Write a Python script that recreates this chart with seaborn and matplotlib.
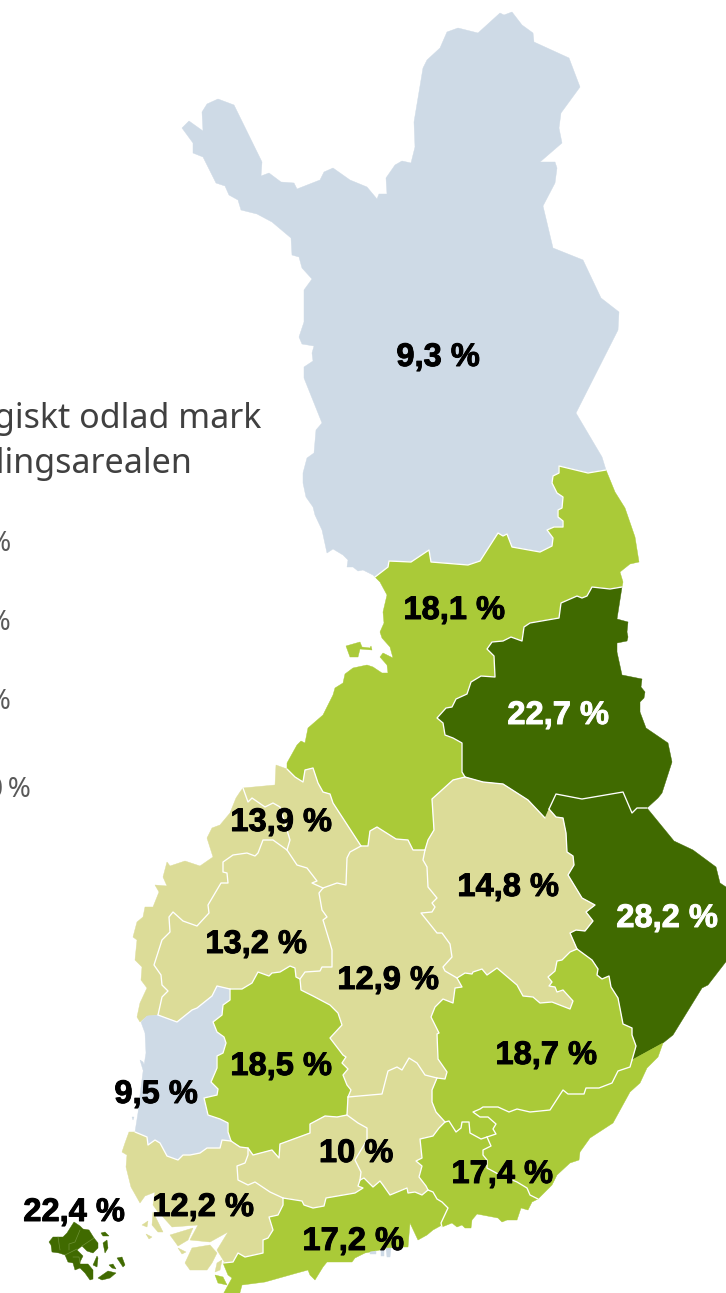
"""Andel ekologiskt odlad mark per region, Finland (karta)."""
import matplotlib
matplotlib.use("Agg")
import matplotlib.pyplot as plt
import matplotlib.patheffects as pe
import numpy as np
import seaborn as sns

# ----------------------------------------------------------------------
# Data: region values and label anchors (image pixels)
# ----------------------------------------------------------------------
REGIONS = ["lappi", "pohjois", "kainuu", "karelen", "savo", "keski", "kp", "pohjanmaa",
           "sp", "satakunta", "pirkanmaa", "esavo", "hame", "ph", "vs", "uusimaa",
           "kymi", "skarelen", "aland"]
VALUES = [9.3, 18.1, 22.7, 28.2, 14.8, 12.9, 13.9, 13.9,
          13.2, 9.5, 18.5, 18.7, 10, 10, 12.2, 17.2,
          17.4, 17.4, 22.4]

LABEL_VALUES = [9.3, 18.1, 22.7, 13.9, 14.8, 28.2, 13.2, 12.9, 18.7, 18.5, 9.5, 10, 17.4, 12.2, 22.4, 17.2]
LABEL_X = [438, 454, 558, 281, 508, 667, 256, 388, 546, 281, 156, 356, 502, 203, 74, 353]
LABEL_Y = [354, 607, 712, 819, 884, 915, 941, 977, 1052, 1063, 1091, 1150, 1171, 1204, 1209, 1238]

TITLE_LINES = ["Ekologiskt odlad mark", "av odlingsarealen"]
LEGEND_LABELS = ["< 10 %", "10–15 %", "15–20 %", "över 20\u2009%"]
LEGEND_RIGHT = [11, 11, 11, 31]
LEGEND_Y = [544, 623, 702, 790]

BLUE = "#CEDAE6"
PALE = "#DCDC98"
LIME = "#AACA38"
DARK = "#406A00"

# ----------------------------------------------------------------------
# Shared borders between regions
# ----------------------------------------------------------------------
B_LAP_POHJ = [(606,470),(588,473),(559,466),(559,473),(553,476),(552,483),(557,493),(563,497),(562,508),(558,510),
              (558,517),(563,521),(563,527),(554,527),(547,530),(553,538),(552,546),(540,552),(512,547),(507,534),
              (503,536),(498,533),(480,561),(468,565),(431,562),(429,550),(411,562),(389,561),(388,567),(375,577)]
B_POHJ_KAIN = [(622,587),(610,589),(592,587),(587,596),(582,598),(577,596),(561,603),(559,618),(530,623),(524,627),
               (522,641),(511,637),(503,641),(492,642),(487,649),(494,656),(495,677),(481,676),(471,682),(467,694),
               (456,699),(452,707),(446,708),(437,718),(443,723),(445,735),(453,738),(462,743),(462,772),(465,777)]
B_POHJ_SAVO = [(465,777),(453,780),(432,799),(434,830),(428,840),(425,850)]
B_POHJ_KESKI = [(425,850),(413,850),(408,840),(396,839),(377,827),(370,831),(368,846),(361,846)]
B_POHJ_KP = [(361,846),(333,803),(330,794),(323,792),(318,783),(313,768),(305,770),(303,782),(295,777),(287,769)]
B_KAIN_KAR = [(647,808),(637,808),(632,813),(623,792),(582,799),(556,794),(549,809)]
B_KAIN_SAVO = [(545,818),(528,800),(503,784),(483,782),(465,777)]
B_KAR_SAVO = [(549,809),(556,817),(563,818),(566,833),(567,852),(573,856),(574,865),(568,875),(582,898),(595,905),
              (586,912),(593,921),(585,931),(576,930),(570,933),(577,949)]
B_KAR_ESAVO = [(577,949),(592,960),(598,969),(597,975),(602,979),(609,976),(611,987),(618,998),(623,1024),(632,1028),
               (632,1035),(636,1046),(632,1060)]
B_SAVO_ESAVO = [(457,978),(465,973),(472,974),(473,972),(482,969),(487,975),(497,968),(517,985),(523,996),(533,997),
                (540,1003),(552,1002),(570,1009),(573,1001),(563,990),(557,992),(555,987),(549,986),(552,982),(548,977),
                (555,971),(557,961),(562,960),(570,952),(577,949)]
B_SAVO_KESKI = [(457,978),(445,971),(443,967),(452,957),(450,944),(442,933),(437,933),(421,913),(432,912),(435,907),
                (432,903),(437,898),(428,887),(427,867),(423,860),(425,850)]
B_KESKI_ESAVO = [(457,978),(462,987),(455,988),(453,1003),(443,999),(435,1007),(431,1017),(439,1033),(437,1034),(438,1059),
                 (447,1072),(445,1079),(437,1078)]
B_KESKI_PH = [(437,1078),(425,1075),(417,1063),(409,1058),(402,1070),(397,1067),(388,1071),(382,1094),(348,1097)]
B_KESKI_PIR = [(348,1097),(351,1090),(347,1085),(343,1075),(348,1069),(342,1063),(346,1057),(343,1055),(330,1038),(342,1025),
               (338,1013),(330,1005),(313,996),(301,990),(300,979)]
B_KESKI_SP = [(300,979),(305,972),(320,971),(322,967),(332,967),(332,950),(330,943),(323,920),(327,917),(322,910),
              (319,893),(323,888)]
B_KESKI_KP = [(323,888),(337,883),(346,885),(347,858),(350,852),(361,846)]
B_KP_POH = [(243,788),(248,802),(252,798),(265,807),(273,803),(280,807),(290,840),(287,850)]
B_KP_SP = [(287,850),(297,865),(307,868),(317,881),(312,883),(323,888)]
B_SP_POH = [(287,850),(273,840),(263,840),(258,853),(255,856),(247,853),(233,855),(223,862),(223,872),(227,873),
            (228,883),(221,883),(208,905),(209,913),(197,926),(183,921),(173,912),(169,917),(170,932),(162,940),
            (154,965),(161,975),(162,985),(168,991),(162,997),(158,1015)]
B_SP_SAT = [(158,1015),(177,1022),(192,1010),(197,1008),(212,996),(217,986),(230,989)]
B_SP_PIR = [(230,989),(242,989),(252,983),(258,972),(269,976),(272,973),(280,972),(290,966),(295,968),(296,977),(300,979)]
B_SAT_PIR = [(230,989),(230,1000),(223,1005),(222,1015),(213,1022),(217,1032),(224,1037),(226,1043),(223,1053),(217,1056),
             (217,1068),(211,1082),(218,1089),(217,1095),(204,1098),(208,1115),(220,1119),(228,1123),(228,1132),(231,1141)]
B_SAT_VS = [(231,1141),(222,1140),(220,1148),(207,1148),(200,1153),(190,1155),(183,1155),(178,1160),(167,1156),(160,1143),
            (155,1140),(148,1145),(147,1137),(135,1132)]
B_PIR_HAME = [(348,1097),(347,1115),(337,1117),(325,1116),(310,1124),(310,1133),(280,1144),(279,1158),(272,1150),(253,1155),
              (248,1148),(240,1147),(231,1141)]
B_HAME_VS = [(248,1148),(248,1155),(245,1163),(237,1166),(238,1180),(248,1185),(255,1182),(270,1192),(283,1198)]
B_HAME_UUS = [(283,1198),(302,1201),(304,1205),(313,1208),(324,1206),(326,1198),(355,1193),(363,1188),(358,1186),(360,1180)]
B_HAME_PH = [(360,1180),(361,1172),(355,1160),(367,1140),(367,1128),(358,1123),(347,1115)]
B_PH_UUS = [(360,1180),(364,1178),(373,1187),(380,1181),(383,1185),(390,1195),(407,1188),(408,1193),(415,1192),(422,1195),(428,1190)]
B_PH_ESAVO = [(437,1078),(432,1090),(432,1102),(436,1112),(445,1122)]
B_PH_KYMI = [(445,1122),(439,1128),(433,1136),(420,1139),(422,1158),(416,1161),(422,1166),(419,1177),(426,1186),(428,1190)]
B_VS_UUS = [(283,1198),(283,1205),(278,1215),(269,1217),(273,1230),(268,1238),(263,1240),(263,1253),(245,1257),(238,1253),
            (233,1262),(223,1263)]
B_UUS_KYMI = [(428,1190),(433,1192),(437,1199),(442,1202),(448,1208),(441,1223),(442,1227)]
B_ESAVO_SK = [(632,1060),(630,1067),(618,1071),(612,1083),(599,1088),(586,1088),(584,1094),(568,1094),(563,1090),(550,1110),
              (530,1112),(517,1109),(509,1112),(498,1107),(483,1107),(480,1109),(473,1112),(480,1117),(488,1117),(496,1124),
              (493,1129),(496,1134),(487,1137)]
B_ESAVO_KYMI = [(487,1137),(481,1139),(470,1133),(469,1122),(462,1122),(461,1128),(456,1132),(449,1121),(445,1122)]
B_KYMI_SK = [(487,1137),(491,1146),(483,1150),(483,1155),(487,1160),(487,1168),(500,1175),(517,1182),(527,1188),(530,1195),(538,1199)]

# ----------------------------------------------------------------------
# Coasts and the eastern border
# ----------------------------------------------------------------------
C_LAP = [(375,577),(373,575),(363,570),(358,571),(353,567),(347,567),(348,560),(343,555),(333,549),(327,553),
         (322,530),(315,515),(313,507),(306,497),(303,483),(303,473),(307,458),(314,453),(316,430),(322,423),
         (304,378),(304,367),(313,361),(312,353),(314,346),(302,344),(299,337),(304,322),(304,290),(312,279),
         (302,268),(299,257),(292,255),(291,238),(272,222),(257,214),(241,210),(238,200),(229,195),(225,186),
         (216,183),(203,157),(193,153),(193,143),(182,128),(189,121),(203,131),(202,112),(207,104),(218,99),
         (234,105),(262,162),(261,176),(269,173),(281,182),(294,183),(297,189),(320,180),(324,172),(333,168),
         (350,180),(367,187),(377,199),(379,194),(387,194),(386,178),(395,165),(402,161),(411,163),(415,147),
         (414,122),(421,80),(423,68),(427,60),(440,48),(447,32),(458,28),(478,33),(500,13),(504,15),
         (512,12),(522,25),(533,33),(534,42),(569,58),(580,87),(561,113),(559,128),(562,143),(540,162),
         (555,162),(557,168),(555,183),(543,206),(553,248),(583,260),(601,298),(619,312),(618,330),(576,413),
         (602,457),(606,470)]
C_POHJ_EAST = [(606,470),(615,492),(625,508),(635,537),(639,562),(630,564),(620,572),(623,582),(622,587)]
C_POHJ_WEST = [(287,769),(287,763),(297,745),(301,741),(305,743),(308,728),(323,715),(333,695),(335,688),(343,683),
               (345,674),(353,668),(367,665),(373,667),(382,673),(388,673),(387,665),(380,657),(383,653),(393,658),
               (390,647),(382,638),(380,632),(384,623),(383,612),(387,595),(380,582),(375,577)]
C_KAIN = [(622,587),(617,619),(628,622),(627,632),(628,637),(627,641),(617,643),(617,652),(622,675),(642,679),
          (641,687),(645,692),(644,698),(640,702),(640,712),(646,728),(668,743),(672,762),(662,793),(658,798),(647,808)]
C_KAR = [(632,1060),(663,1043),(673,1035),(702,988),(708,985),(735,950),(735,887),(726,887),(720,883),(716,867),
         (693,850),(674,841),(647,808)]
C_KP = [(287,769),(276,765),(275,785),(243,788)]
C_POH = [(243,788),(240,792),(236,798),(230,813),(220,825),(212,828),(207,838),(213,857),(200,866),(185,861),
         (170,866),(167,862),(163,877),(167,886),(155,885),(159,892),(153,907),(145,907),(143,917),(137,922),
         (133,937),(137,940),(135,960),(142,967),(141,980),(147,988),(140,1003),(137,1017),(140,1022),(147,1016),(158,1015)]
C_SAT = [(135,1132),(138,1113),(140,1095),(143,1072),(146,1053),(145,1033),(141,1022),(147,1016),(158,1015)]
C_VS = [(135,1132),(129,1132),(125,1143),(122,1152),(127,1155),(126,1167),(131,1187),(140,1203),(145,1196),(155,1192),
        (153,1205),(158,1212),(163,1217),(172,1227),(198,1225),(190,1240),(210,1242),(228,1232),(217,1250),(225,1263),(223,1263)]
C_UUS = [(442,1227),(442,1225),(433,1230),(427,1235),(418,1240),(410,1223),(408,1247),(395,1247),(365,1253),(355,1258),
         (352,1262),(327,1262),(323,1267),(315,1280),(310,1275),(308,1270),(297,1273),(265,1282),(242,1285),(238,1300),
         (220,1300),(232,1278),(228,1275),(223,1263)]
C_KYMI = [(538,1199),(532,1202),(528,1210),(521,1208),(517,1220),(507,1220),(502,1222),(498,1218),(477,1214),(472,1220),
          (471,1228),(465,1228),(462,1225),(457,1227),(452,1223),(442,1227)]
C_SK = [(632,1060),(663,1043),(658,1057),(647,1068),(640,1083),(630,1092),(613,1123),(590,1138),(580,1152),(579,1160),
        (570,1163),(557,1175),(552,1185),(538,1199)]

ALAND_MAIN = [(49,1242),(53,1237),(63,1237),(67,1233),(74,1222),(80,1226),(83,1229),(89,1230),(94,1238),(98,1243),
              (98,1248),(93,1253),(87,1251),(82,1246),(77,1250),(83,1256),(80,1262),(80,1264),(88,1264),(93,1270),
              (93,1279),(90,1280),(85,1273),(80,1268),(75,1270),(73,1263),(68,1262),(65,1255),(59,1253),(52,1252),(51,1245)]
ALAND_ISLETS = [[(101,1233),(105,1232),(109,1236),(103,1236)],
                [(103,1243),(107,1240),(108,1248),(105,1253)],
                [(93,1265),(97,1256),(98,1258),(97,1267)],
                [(117,1258),(122,1257),(125,1265),(123,1267)],
                [(109,1265),(113,1264),(116,1269),(112,1268)],
                [(98,1278),(108,1271),(116,1273),(110,1278),(102,1280)]]
ALAND_LINES = [[(58,1237),(60,1250)],
               [(80,1230),(75,1242),(69,1244),(69,1250)],
               [(94,1238),(82,1246)],
               [(77,1249),(65,1255)],
               [(73,1257),(79,1257),(80,1263)]]

PALE_ISLETS = [[(170,1235),(193,1228),(188,1240),(178,1246)],
               [(185,1263),(192,1248),(210,1245),(217,1253),(212,1263),(207,1270),(190,1270)],
               [(178,1248),(186,1252),(182,1254)],
               [(153,1212),(163,1232),(158,1232),(152,1225)],
               [(142,1225),(148,1221),(147,1227)],
               [(146,1234),(152,1237),(149,1239)],
               [(217,1263),(222,1260),(220,1270),(215,1272)]]
LIME_ISLETS = [[(346,646),(360,642),(362,647),(370,648),(371,646),(372,650),(360,649),(358,657),(350,657)],
               [(215,1275),(223,1277),(227,1285),(218,1283)]]
BLUE_ISLETS = [[(140,1060),(143,1062),(147,1072),(143,1070)],
               [(132,1117),(134,1117),(133,1120)],
               [(370,1252),(376,1251),(376,1254),(370,1254)],
               [(381,1250),(384,1250),(384,1256),(381,1256)],
               [(386,1248),(391,1248),(390,1257),(387,1257)]]

# interior lines drawn white on top of the fills
BORDERS = [B_LAP_POHJ, B_POHJ_KAIN, B_POHJ_SAVO, B_POHJ_KESKI, B_POHJ_KP, B_KAIN_KAR, B_KAIN_SAVO, B_KAR_SAVO,
           B_KAR_ESAVO, B_SAVO_ESAVO, B_SAVO_KESKI, B_KESKI_ESAVO, B_KESKI_PH, B_KESKI_PIR, B_KESKI_SP, B_KESKI_KP,
           B_KP_POH, B_KP_SP, B_SP_POH, B_SP_SAT, B_SP_PIR, B_SAT_PIR, B_SAT_VS, B_PIR_HAME, B_HAME_VS, B_HAME_UUS,
           B_HAME_PH, B_PH_UUS, B_PH_ESAVO, B_PH_KYMI, B_VS_UUS, B_UUS_KYMI, B_ESAVO_SK, B_ESAVO_KYMI, B_KYMI_SK]


def rev(arc):
    return arc[::-1]


def ring(*arcs):
    pts = []
    for arc in arcs:
        pts.extend(arc)
    return pts


OUTLINES = {
    "lappi": ring(C_LAP, B_LAP_POHJ),
    "pohjois": ring(rev(B_LAP_POHJ), C_POHJ_EAST, B_POHJ_KAIN, B_POHJ_SAVO, B_POHJ_KESKI, B_POHJ_KP, C_POHJ_WEST),
    "kainuu": ring(C_KAIN, B_KAIN_KAR, B_KAIN_SAVO, rev(B_POHJ_KAIN)),
    "karelen": ring(B_KAIN_KAR, B_KAR_SAVO, B_KAR_ESAVO, C_KAR),
    "savo": ring(rev(B_KAIN_SAVO), B_KAR_SAVO, rev(B_SAVO_ESAVO), B_SAVO_KESKI, rev(B_POHJ_SAVO)),
    "keski": ring(B_POHJ_KESKI, rev(B_KESKI_KP), rev(B_KESKI_SP), rev(B_KESKI_PIR), rev(B_KESKI_PH),
                  rev(B_KESKI_ESAVO), B_SAVO_KESKI),
    "kp": ring(B_POHJ_KP, C_KP, B_KP_POH, B_KP_SP, B_KESKI_KP),
    "pohjanmaa": ring(C_POH, rev(B_SP_POH), rev(B_KP_POH)),
    "sp": ring(B_SP_POH, B_SP_SAT, B_SP_PIR, B_KESKI_SP, rev(B_KP_SP)),
    "satakunta": ring(B_SP_SAT, B_SAT_PIR, B_SAT_VS, C_SAT),
    "pirkanmaa": ring(B_SP_PIR, rev(B_KESKI_PIR), B_PIR_HAME, rev(B_SAT_PIR)),
    "esavo": ring(B_SAVO_ESAVO, B_KAR_ESAVO, B_ESAVO_SK, B_ESAVO_KYMI, rev(B_PH_ESAVO), rev(B_KESKI_ESAVO)),
    "hame": ring(B_PIR_HAME[1:11], B_HAME_VS, B_HAME_UUS, B_HAME_PH),
    "ph": ring(rev(B_KESKI_PH), B_PH_ESAVO, B_PH_KYMI, rev(B_PH_UUS), B_HAME_PH, [(348, 1097)]),
    "vs": ring(rev(B_SAT_VS), [(240, 1147)], B_HAME_VS, B_VS_UUS, rev(C_VS)),
    "uusimaa": ring(B_HAME_UUS, B_PH_UUS, B_UUS_KYMI, C_UUS, rev(B_VS_UUS)),
    "kymi": ring(rev(B_PH_KYMI), rev(B_ESAVO_KYMI), B_KYMI_SK, C_KYMI, rev(B_UUS_KYMI)),
    "skarelen": ring(C_SK, rev(B_KYMI_SK), rev(B_ESAVO_SK)),
    "aland": ALAND_MAIN,
}


def class_color(value):
    if value < 10:
        return BLUE
    if value < 15:
        return PALE
    if value < 20:
        return LIME
    return DARK


def fmt_value(value):
    return f"{value:g}".replace(".", ",") + " %"


def fill_poly(ax, pts, color):
    arr = np.array(pts)
    ax.fill(arr[:, 0], arr[:, 1], color=color, linewidth=0.3, zorder=2)


def draw_line(ax, pts, color="white", lw=0.95, z=3):
    arr = np.array(pts)
    sns.lineplot(x=arr[:, 0], y=arr[:, 1], sort=False, estimator=None, color=color,
                 linewidth=lw, ax=ax, zorder=z, legend=False)


# ----------------------------------------------------------------------
# Figure
# ----------------------------------------------------------------------
sns.set_theme(style="white")
plt.rcParams["font.family"] = ["Noto Sans", "DejaVu Sans"]

fig = plt.figure(figsize=(7.26, 12.93), dpi=100)
ax = fig.add_axes([0, 0, 1, 1])

for name, val in zip(REGIONS, VALUES):
    fill_poly(ax, OUTLINES[name], class_color(val))
for isl in PALE_ISLETS:
    fill_poly(ax, isl, PALE)
for isl in LIME_ISLETS:
    fill_poly(ax, isl, LIME)
for isl in BLUE_ISLETS:
    fill_poly(ax, isl, BLUE)
for isl in ALAND_ISLETS:
    fill_poly(ax, isl, DARK)

for arc in BORDERS:
    draw_line(ax, arc)
for arc in ALAND_LINES:
    draw_line(ax, arc, color="#6F9238", lw=0.5)

# value labels
for val, x, y in zip(LABEL_VALUES, LABEL_X, LABEL_Y):
    col = "white" if val in (22.7, 28.2) else "black"
    ax.text(x, y, fmt_value(val), ha="center", va="center_baseline", fontsize=23.5,
            family="Liberation Sans", fontweight="bold", color=col, zorder=5,
            path_effects=[pe.withStroke(linewidth=0.7, foreground=col)])

# legend text, cut off by the left edge as in the source
ax.text(261, 428, TITLE_LINES[0], ha="right", va="baseline", fontsize=24.5, color="#404040")
ax.text(192, 473, TITLE_LINES[1], ha="right", va="baseline", fontsize=24.5, color="#404040")
for lab, x, y in zip(LEGEND_LABELS, LEGEND_RIGHT, LEGEND_Y):
    ax.text(x, y, lab, ha="right", va="center", fontsize=20, color="#595959")

ax.set_xlim(0, 726)
ax.set_ylim(1293, 0)
ax.axis("off")

fig.savefig("out.png", dpi=100, facecolor="white")
